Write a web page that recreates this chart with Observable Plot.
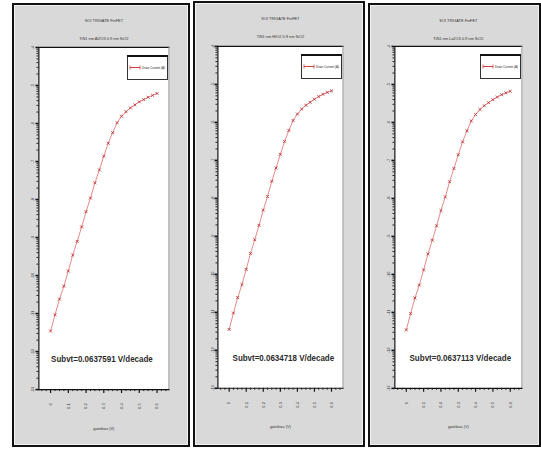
<!DOCTYPE html>
<html><head><meta charset="utf-8">
<script src="https://cdn.jsdelivr.net/npm/d3@7"></script>
<script src="https://cdn.jsdelivr.net/npm/@observablehq/plot@0.6"></script>
<style>
body{margin:0;background:#fff;}
#root{position:relative;width:541px;height:450px;overflow:hidden;font-family:"Liberation Sans Narrow","Liberation Sans",sans-serif;}
.panel{position:absolute;box-sizing:border-box;border:2px solid #111;background:#d9d9d9;box-shadow:inset 0 0 0 1px #f2f2f2;}
.panel svg.plotsvg{position:absolute;left:-2px;top:-2px;}
.legend{position:absolute;}
</style></head><body><div id="root"></div>
<script>
// ---- data ----
const gateBias = [0, 0.025, 0.05, 0.075, 0.1, 0.125, 0.15, 0.175, 0.2, 0.225, 0.25, 0.275, 0.3, 0.325, 0.35, 0.375, 0.4, 0.425, 0.45, 0.475, 0.5, 0.525, 0.55, 0.575, 0.6];
// log10 of drain current (A)
const logId1 = [-11.46, -11.03, -10.62, -10.28, -9.88, -9.46, -9.10, -8.72, -8.32, -7.96, -7.56, -7.22, -6.86, -6.52, -6.24, -5.98, -5.81, -5.69, -5.59, -5.51, -5.43, -5.37, -5.31, -5.26, -5.21];
const logId2 = [-11.45, -11.02, -10.61, -10.27, -9.87, -9.45, -9.09, -8.71, -8.31, -7.95, -7.55, -7.20, -6.84, -6.50, -6.21, -5.95, -5.78, -5.65, -5.55, -5.47, -5.39, -5.32, -5.26, -5.21, -5.17];
const logId3 = [-11.46, -11.03, -10.62, -10.28, -9.88, -9.46, -9.10, -8.72, -8.32, -7.96, -7.56, -7.21, -6.85, -6.51, -6.22, -5.96, -5.79, -5.66, -5.56, -5.48, -5.40, -5.33, -5.27, -5.22, -5.18];
const panelTitle = "SOI TRIGATE FinFET";
const subtitles = ["TiN1 nm Al2O3 0.9 nm SiO2", "TiN1 nm HfO2 0.9 nm SiO2", "TiN1 nm La2O3 0.9 nm SiO2"];
const subvtLabels = ["Subvt=0.0637591 V/decade", "Subvt=0.0634718 V/decade", "Subvt=0.0637113 V/decade"];
const legendLabel = "Drain Current (A)";
const xLabel = "gatebias (V)";
const xTicks = [0, 0.1, 0.2, 0.3, 0.4, 0.5, 0.6];
const xTickLabels = ["0", "0.1", "0.2", "0.3", "0.4", "0.5", "0.6"];
const yExponents = [-4, -5, -6, -7, -8, -9, -10, -11, -12, -13];

// ---- layout (outer panel box and inner plot frame, page pixels) ----
const layouts = [
  {left: 12, top: 3, w: 178, h: 444, pl: 39, pr: 172, pt: 48, pb: 398, tdx: -2},
  {left: 193, top: 1, w: 172, h: 446, pl: 218, pr: 346, pt: 47, pb: 397, tdx: 3},
  {left: 368, top: 3, w: 173, h: 444, pl: 395, pr: 525, pt: 47, pb: 397, tdx: 2}
];
const xDomain = [-0.066, 0.667];
const yDomain = [1e-13, 1e-4];
const FONT = "Liberation Sans Narrow, Liberation Sans, sans-serif";

const xMinor = d3.range(-0.05, 0.66, 0.025).filter(v => Math.abs(v * 10 - Math.round(v * 10)) > 1e-6);
const yMinor = [];
for (let k = -13; k < -4; k++) for (let m = 2; m <= 9; m++) yMinor.push(m * Math.pow(10, k));
const yMajor = yExponents.map(e => Math.pow(10, e));

const root = document.getElementById("root");
const series = [logId1, logId2, logId3];

layouts.forEach((L, i) => {
  const data = gateBias.map((x, j) => ({x, y: Math.pow(10, series[i][j])}));
  const panel = document.createElement("div");
  panel.className = "panel";
  Object.assign(panel.style, {left: L.left + "px", top: L.top + "px", width: L.w + "px", height: L.h + "px"});
  const chart = Plot.plot({
    width: L.w, height: L.h,
    marginLeft: L.pl - L.left, marginRight: L.left + L.w - L.pr,
    marginTop: L.pt - L.top, marginBottom: L.top + L.h - L.pb,
    style: {background: "transparent", fontFamily: FONT, overflow: "visible"},
    x: {domain: xDomain},
    y: {type: "log", domain: yDomain},
    marks: [
      Plot.frame({fill: "white", stroke: null}),
      Plot.frame({anchor: "top", stroke: "#111", strokeWidth: 1.3}),
      Plot.frame({anchor: "right", stroke: "#9a9a9a", strokeWidth: 1}),
      Plot.axisY(yMinor, {tickSize: 2, tickFormat: () => "", stroke: "#222", label: null}),
      Plot.axisY(yMajor, {tickSize: 3, strokeWidth: 1.6, stroke: "#111", tickPadding: 1.5, fontSize: 4.2, fill: "#333", label: null,
        tickRotate: -90, tickFormat: d => String(Math.round(Math.log10(d)))}),
      Plot.axisX(xMinor, {tickSize: 2, tickFormat: () => "", stroke: "#222", label: null}),
      Plot.axisX(xTicks, {tickSize: 4, strokeWidth: 1.2, stroke: "#111", tickPadding: 10, fontSize: 4.2, fill: "#333", label: null,
        tickRotate: -90, tickFormat: (d, k) => xTickLabels[k]}),
      Plot.frame({anchor: "left", stroke: "#111", strokeWidth: 1.2}),
      Plot.frame({anchor: "bottom", stroke: "#111", strokeWidth: 1.2}),
      Plot.line(data, {x: "x", y: "y", stroke: "#e07a7a", strokeWidth: 0.9}),
      Plot.dot(data, {x: "x", y: "y", symbol: "times", r: 1.5, stroke: "#b8262b", strokeWidth: 0.8}),
      Plot.text([panelTitle], {frameAnchor: "top", dy: -(L.pt - L.top) + 16, fontSize: 4, fill: "#333"}),
      Plot.text([subtitles[i]], {frameAnchor: "top", dy: -(L.pt - L.top) + 35, fontSize: 4, fill: "#333"}),
      Plot.text([xLabel], {frameAnchor: "bottom", dy: 41, fontSize: 4, fill: "#333"}),
      Plot.text([subvtLabels[i]], {frameAnchor: "bottom", dy: -28, dx: L.tdx, fontSize: 10, fontWeight: "bold", fill: "#2b2b2b", fontFamily: FONT, className: "subvt"})
    ]
  });
  chart.classList.add("plotsvg");
  // squeeze the Subvt annotation to the narrow width it has in the reference
  chart.querySelectorAll(".subvt text").forEach(t => {
    t.setAttribute("textLength", 104);
    t.setAttribute("lengthAdjust", "spacingAndGlyphs");
  });
  panel.appendChild(chart);

  // legend box (top-right inside the plot frame)
  const lgW = 41, lgH = 25;
  const lg = document.createElement("div");
  lg.className = "legend";
  Object.assign(lg.style, {left: (L.pr - lgW - 4 - L.left - 2) + "px", top: (L.pt + 7 - L.top - 2) + "px"});
  lg.innerHTML =
    `<svg width="${lgW}" height="${lgH}" style="display:block">
      <rect x="0.5" y="0.5" width="${lgW - 1}" height="${lgH - 1}" fill="#fff" stroke="#333" stroke-width="1"/>
      <line x1="0" y1="1" x2="${lgW}" y2="1" stroke="#111" stroke-width="2"/>
      <line x1="3" y1="12.5" x2="13" y2="12.5" stroke="#d04040" stroke-width="1"/>
      <line x1="3" y1="10.5" x2="3" y2="14.5" stroke="#d04040" stroke-width="0.8"/>
      <line x1="13" y1="10.5" x2="13" y2="14.5" stroke="#d04040" stroke-width="0.8"/>
      <text x="15" y="13.8" font-size="3.4" fill="#222" font-family="${FONT}" textLength="23" lengthAdjust="spacingAndGlyphs"></text>
    </svg>`;
  lg.querySelector("text").textContent = legendLabel;
  panel.appendChild(lg);
  root.appendChild(panel);
});
</script></body></html>
